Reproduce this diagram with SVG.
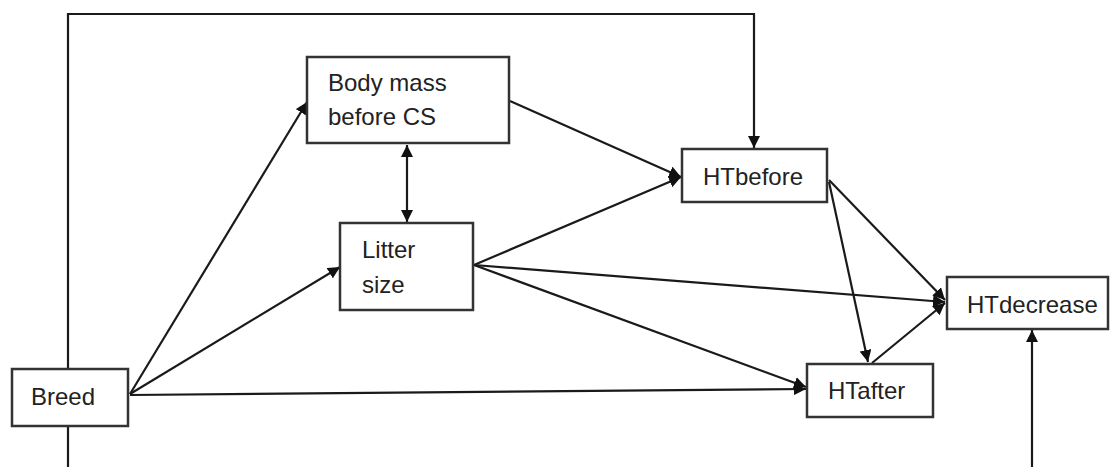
<svg xmlns="http://www.w3.org/2000/svg" width="1112" height="467" viewBox="0 0 1112 467">
<style>
.box{fill:#fff;stroke:#333;stroke-width:2.5}
.t{font-family:"Liberation Sans",Arial,sans-serif;font-size:24px;fill:#222}
.c{fill:none;stroke:#1a1a1a;stroke-width:2.2}
</style>
<defs>
<marker id="ah" viewBox="0 0 10 10" refX="10" refY="5" markerWidth="12" markerHeight="12" markerUnits="userSpaceOnUse" orient="auto">
<path d="M0,0 L10,5 L0,10 Z" fill="#111"/>
</marker>
<marker id="as" viewBox="0 0 10 10" refX="0" refY="5" markerWidth="12" markerHeight="12" markerUnits="userSpaceOnUse" orient="auto">
<path d="M10,0 L0,5 L10,10 Z" fill="#111"/>
</marker>
</defs>
<rect width="1112" height="467" fill="#fff"/>
<g id="connectors">
<polyline class="c" points="68,369 68,14 754,14 754,148" marker-end="url(#ah)"/>
<line class="c" x1="68" y1="426" x2="68" y2="467"/>
<line class="c" x1="1032" y1="467" x2="1032" y2="330" marker-end="url(#ah)"/>
<line class="c" x1="130" y1="394" x2="307" y2="102" marker-end="url(#ah)"/>
<line class="c" x1="130" y1="394" x2="340" y2="267" marker-end="url(#ah)"/>
<line class="c" x1="130" y1="395" x2="806" y2="389" marker-end="url(#ah)"/>
<line class="c" x1="510" y1="101" x2="681" y2="177" marker-end="url(#ah)"/>
<line class="c" x1="407" y1="145" x2="407" y2="222" marker-start="url(#as)" marker-end="url(#ah)"/>
<line class="c" x1="474" y1="265" x2="681" y2="177" marker-end="url(#ah)"/>
<line class="c" x1="474" y1="265" x2="945" y2="302" marker-end="url(#ah)"/>
<line class="c" x1="474" y1="265" x2="806" y2="387" marker-end="url(#ah)"/>
<line class="c" x1="829" y1="180" x2="945" y2="300" marker-end="url(#ah)"/>
<line class="c" x1="829" y1="182" x2="868" y2="362" marker-end="url(#ah)"/>
<line class="c" x1="872" y1="363" x2="945" y2="303" marker-end="url(#ah)"/>
</g>
<g id="body-mass">
<rect class="box" x="307" y="57" width="202" height="86"/>
<text class="t" x="328" y="91">Body mass</text>
<text class="t" x="328" y="125">before CS</text>
</g>
<g id="litter-size">
<rect class="box" x="340" y="223" width="133" height="87"/>
<text class="t" x="362" y="258">Litter</text>
<text class="t" x="362" y="293">size</text>
</g>
<g id="htbefore">
<rect class="box" x="682" y="149" width="145" height="53"/>
<text class="t" x="703" y="185">HTbefore</text>
</g>
<g id="htdecrease">
<rect class="box" x="947" y="277" width="161" height="52"/>
<text class="t" x="967" y="313">HTdecrease</text>
</g>
<g id="htafter">
<rect class="box" x="807" y="364" width="126" height="53"/>
<text class="t" x="828" y="399">HTafter</text>
</g>
<g id="breed">
<rect class="box" x="12" y="369" width="116" height="57"/>
<text class="t" x="31" y="405">Breed</text>
</g>
</svg>
